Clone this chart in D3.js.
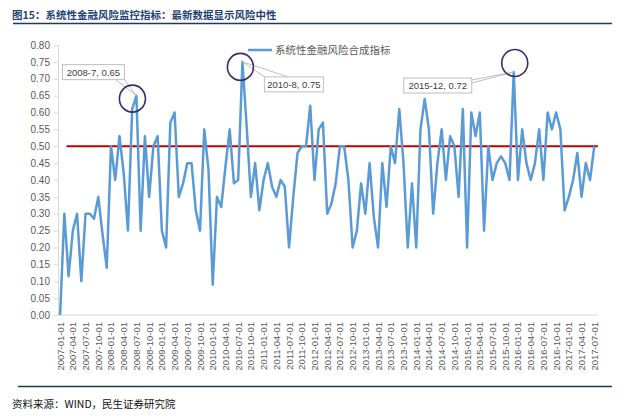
<!DOCTYPE html>
<html>
<head>
<meta charset="utf-8">
<script src="https://cdn.jsdelivr.net/npm/d3@7"></script>
<style>
  body { margin: 0; background: #fff; }
  svg { display: block; }
</style>
</head>
<body>
<svg id="chart"></svg>
<script>
const width = 624, height = 416;

// 数据：2007-01 至 2017-07 月度
const months = d3.timeMonth.range(new Date(2007, 0, 1), new Date(2017, 7, 1));
const riskValues = [
  0.00, 0.30, 0.115, 0.25, 0.30, 0.10, 0.30, 0.30, 0.285, 0.35, 0.24, 0.14,   // 2007
  0.50, 0.40, 0.53, 0.42, 0.25, 0.61, 0.65, 0.25, 0.53, 0.35, 0.50, 0.53,     // 2008
  0.25, 0.20, 0.57, 0.60, 0.35, 0.39, 0.45, 0.45, 0.31, 0.25, 0.55, 0.43,     // 2009
  0.09, 0.35, 0.32, 0.44, 0.55, 0.39, 0.40, 0.75, 0.56, 0.35, 0.45, 0.31,     // 2010
  0.40, 0.45, 0.38, 0.35, 0.40, 0.38, 0.20, 0.35, 0.48, 0.50, 0.50, 0.62,     // 2011
  0.40, 0.55, 0.57, 0.30, 0.33, 0.39, 0.50, 0.50, 0.40, 0.20, 0.25, 0.39,     // 2012
  0.30, 0.45, 0.29, 0.20, 0.45, 0.32, 0.50, 0.45, 0.61, 0.45, 0.20, 0.39,     // 2013
  0.20, 0.55, 0.64, 0.55, 0.30, 0.45, 0.55, 0.40, 0.53, 0.50, 0.35, 0.61,     // 2014
  0.20, 0.60, 0.53, 0.60, 0.25, 0.50, 0.40, 0.45, 0.47, 0.45, 0.40, 0.72,     // 2015
  0.40, 0.55, 0.45, 0.40, 0.45, 0.55, 0.40, 0.60, 0.55, 0.60, 0.55, 0.31,     // 2016
  0.35, 0.40, 0.48, 0.35, 0.45, 0.40, 0.50                                    // 2017
];
const neutralLevel = 0.5;
const yTicks = d3.range(0, 17).map(k => k * 0.05);
const seriesName = "系统性金融风险合成指标";
const titleText = "图15：系统性金融风险监控指标：最新数据显示风险中性";
const sourceText = "资料来源：WIND，民生证券研究院";
const callouts = [
  { idx: 18, text: "2008-7, 0.65" },
  { idx: 43, text: "2010-8, 0.75" },
  { idx: 107, text: "2015-12, 0.72" }
];
// 标注框相对数据点的位置（样式）
const calloutStyle = [
  { bx: -74, by: -31, bw: 62, ox: -4, oy: 3, lead: "bottomRight" },
  { bx: 22, by: 15, bw: 59, ox: -2, oy: 5, lead: "topLeft" },
  { bx: -110, by: 6, bw: 68, ox: 1, oy: -9, lead: "right" }
];

const svg = d3.select("#chart")
  .attr("width", width)
  .attr("height", height);

const x = d3.scalePoint()
  .domain(d3.range(riskValues.length))
  .range([58, 596.4])
  .padding(0.5);

const y = d3.scaleLinear()
  .domain([0, 0.8])
  .range([315, 45]);

const fmtDate = d3.timeFormat("%Y-%m-%d");

// 标题
svg.append("text")
  .attr("x", 12).attr("y", 19)
  .attr("font-family", "'Noto Sans CJK SC', sans-serif")
  .attr("font-size", 10.5)
  .attr("font-weight", 700)
  .attr("fill", "#1f3f77")
  .text(titleText);

svg.append("line")
  .attr("x1", 13).attr("x2", 612)
  .attr("y1", 23.5).attr("y2", 23.5)
  .attr("stroke", "#1f3a5a")
  .attr("stroke-width", 1.5);

// 底部来源
svg.append("line")
  .attr("x1", 18).attr("x2", 612)
  .attr("y1", 386.5).attr("y2", 386.5)
  .attr("stroke", "#1f3a4a")
  .attr("stroke-width", 1.5);

svg.append("text")
  .attr("x", 12).attr("y", 407.5)
  .attr("font-family", "'Noto Sans CJK SC', sans-serif")
  .attr("font-size", 10.5)
  .attr("fill", "#111")
  .text(sourceText);

// y 轴
const yAxis = svg.append("g")
  .attr("transform", "translate(58,0)")
  .call(d3.axisLeft(y).tickValues(yTicks).tickFormat(d3.format(".2f")).tickSize(4).tickPadding(4));
yAxis.select(".domain").attr("stroke", "#d9d9d9");
yAxis.selectAll(".tick line").attr("stroke", "#d9d9d9");
yAxis.selectAll("text")
  .attr("font-family", "'Liberation Sans', Arial, sans-serif")
  .attr("font-size", 10)
  .attr("fill", "#595959");

// x 轴
svg.append("line")
  .attr("x1", 58).attr("x2", 598)
  .attr("y1", y(0)).attr("y2", y(0))
  .attr("stroke", "#d9d9d9");

svg.append("g")
  .selectAll("text")
  .data(d3.range(0, months.length, 3))
  .join("text")
  .attr("transform", i => `translate(${x(i) + 3.5},${y(0) + 7}) rotate(-90)`)
  .attr("text-anchor", "end")
  .attr("font-family", "'Liberation Sans', Arial, sans-serif")
  .attr("font-size", 9.5)
  .attr("fill", "#595959")
  .text(i => fmtDate(months[i]));

// 风险中性线
svg.append("line")
  .attr("x1", x(0) + x.step() * 1.5).attr("x2", x.range()[1] + 1.5)
  .attr("y1", y(neutralLevel)).attr("y2", y(neutralLevel))
  .attr("stroke", "#c00000")
  .attr("stroke-width", 2);

// 指标折线
const line = d3.line()
  .x((d, i) => x(i))
  .y(d => y(d));

svg.append("path")
  .datum(riskValues)
  .attr("fill", "none")
  .attr("stroke", "#5b9bd5")
  .attr("stroke-width", 2.5)
  .attr("stroke-linejoin", "round")
  .attr("d", line);

// 图例
svg.append("line")
  .attr("x1", 248).attr("x2", 272)
  .attr("y1", 50).attr("y2", 50)
  .attr("stroke", "#5b9bd5")
  .attr("stroke-width", 2.5);
svg.append("text")
  .attr("x", 275).attr("y", 54)
  .attr("font-family", "'Noto Sans CJK SC', sans-serif")
  .attr("font-size", 10.5)
  .attr("fill", "#595959")
  .text(seriesName);

// 标注
callouts.forEach((c, k) => {
  const s = calloutStyle[k];
  const px = x(c.idx), py = y(riskValues[c.idx]);
  const bx = px + s.bx, by = py + s.by, bh = 15;
  const g = svg.append("g");

  let a, b;
  if (s.lead === "bottomRight") { a = [bx + s.bw - 9, by + bh]; b = [bx + s.bw, by + bh]; }
  else if (s.lead === "topLeft") { a = [bx, by]; b = [bx + 24, by]; }
  else { a = [bx + s.bw, by + 2]; b = [bx + s.bw, by + 5]; }

  g.append("path")
    .attr("d", `M${a[0]},${a[1]}L${px},${py}L${b[0]},${b[1]}`)
    .attr("fill", "none")
    .attr("stroke", "#bfbfbf")
    .attr("stroke-width", 1);

  g.append("rect")
    .attr("x", bx).attr("y", by)
    .attr("width", s.bw).attr("height", bh)
    .attr("fill", "#fff")
    .attr("stroke", "#bfbfbf");

  g.append("text")
    .attr("x", bx + s.bw / 2).attr("y", by + 11)
    .attr("text-anchor", "middle")
    .attr("font-family", "'Liberation Sans', Arial, sans-serif")
    .attr("font-size", 9.5)
    .attr("fill", "#404040")
    .text(c.text);

  g.append("ellipse")
    .attr("cx", px + s.ox).attr("cy", py + s.oy)
    .attr("rx", 13).attr("ry", 13.5)
    .attr("fill", "none")
    .attr("stroke", "#3d2b6b")
    .attr("stroke-width", 1.6);
});
</script>
</body>
</html>
